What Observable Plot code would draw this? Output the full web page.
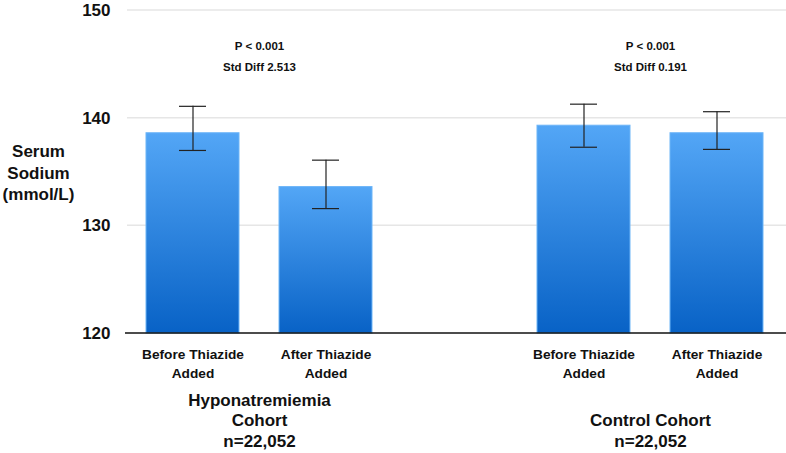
<!DOCTYPE html>
<html>
<head>
<meta charset="utf-8">
<script src="https://cdn.jsdelivr.net/npm/d3@7"></script>
<script src="https://cdn.jsdelivr.net/npm/@observablehq/plot@0.6"></script>
<style>
  html, body { margin: 0; padding: 0; background: #fff; }
  #chart svg { display: block; }
</style>
</head>
<body>
<div id="chart"></div>
<script>
// ---- data ----
const cohortKeys = ["Hyponatremiemia", "Control"];
const cohortLabels = ["Hyponatremiemia\nCohort\nn=22,052", "Control Cohort\nn=22,052"];
const phases = ["Before", "After"];
const phaseLabels = ["Before Thiazide\nAdded", "After Thiazide\nAdded"];
// values in order: Hypo-Before, Hypo-After, Control-Before, Control-After
const means   = [138.6, 133.6, 139.3, 138.6];
const errLow  = [137.0, 131.6, 137.3, 137.1];
const errHigh = [141.1, 136.1, 141.3, 140.6];
const pValues = ["P < 0.001", "P < 0.001"];
const stdDiffs = ["Std Diff 2.513", "Std Diff 0.191"];
const yTicks = [120, 130, 140, 150];
const yLabel = "Serum\nSodium\n(mmol/L)";

// ---- build tables ----
const rows = [];
cohortKeys.forEach((c, ci) => phases.forEach((p, pi) => {
  const i = ci * phases.length + pi;
  rows.push({cohort: c, phase: p, mean: means[i], lo: errLow[i], hi: errHigh[i]});
}));
const annots = cohortKeys.map((c, i) => ({cohort: c, text: pValues[i] + "\n" + stdDiffs[i]}));
const cohortRows = cohortKeys.map((c, i) => ({cohort: c, text: cohortLabels[i]}));
const phaseLabel = p => phaseLabels[phases.indexOf(p)];

const W = 786, H = 453, ML = 127, MR = 4, MT = 10, MB = 120;

const chart = Plot.plot({
  width: W,
  height: H,
  marginLeft: ML,
  marginRight: MR,
  marginTop: MT,
  marginBottom: MB,
  style: {fontFamily: "'Liberation Sans', Arial, Helvetica, sans-serif", fontWeight: "bold", color: "#111", background: "#fff"},
  fx: {domain: cohortKeys, paddingInner: 0.3258, paddingOuter: 0, axis: null, label: null},
  x: {domain: phases, paddingInner: 0.3, paddingOuter: 0.139, label: null},
  y: {domain: [yTicks[0], yTicks[yTicks.length - 1]], label: null},
  marks: [
    Plot.barY(rows, {fx: "cohort", x: "phase", y1: yTicks[0], y2: "mean", fill: "url(#barGrad)", stroke: "#6db5f8", strokeWidth: 1}),
    Plot.ruleX(rows, {fx: "cohort", x: "phase", y1: "lo", y2: "hi", stroke: "#222", strokeWidth: 1.2}),
    Plot.tickY(rows, {fx: "cohort", x: "phase", y: "lo", stroke: "#222", strokeWidth: 1.2, inset: 33}),
    Plot.tickY(rows, {fx: "cohort", x: "phase", y: "hi", stroke: "#222", strokeWidth: 1.2, inset: 33}),
    Plot.axisY({ticks: yTicks, tickSize: 0, tickPadding: 17, fontSize: 17, label: null}),
    Plot.axisX({tickSize: 0, tickPadding: 12, fontSize: 13.7, lineHeight: 1.39, tickFormat: phaseLabel, label: null}),
    Plot.text(annots, {fx: "cohort", text: "text", frameAnchor: "top", dy: 25, fontSize: 11.5, lineHeight: 1.83, fill: "#111"}),
    Plot.text(cohortRows, {fx: "cohort", text: "text", frameAnchor: "bottom", lineAnchor: "bottom", dy: 113, fontSize: 17, lineHeight: 1.2, fill: "#111"}),
    Plot.text([yLabel], {text: d => d, frameAnchor: "left", dx: -89, textAnchor: "middle", fontSize: 17, lineHeight: 1.27, fill: "#111", facet: "super"})
  ]
});

const svg = d3.select(chart);
const yScale = chart.scale("y");

// gradient for bars
const grad = svg.insert("defs", ":first-child").append("linearGradient")
  .attr("id", "barGrad").attr("x1", 0).attr("y1", 0).attr("x2", 0).attr("y2", 1);
grad.append("stop").attr("offset", "0%").attr("stop-color", "#53a6f6");
grad.append("stop").attr("offset", "100%").attr("stop-color", "#0862c6");

// continuous grid lines across both cohorts (behind bars), drawn with Plot's y scale
const firstG = chart.querySelector("g");
const grid = d3.select(chart.insertBefore(document.createElementNS("http://www.w3.org/2000/svg", "g"), firstG));
grid.selectAll("line").data(yTicks.slice(1)).join("line")
  .attr("x1", ML).attr("x2", W)
  .attr("y1", d => yScale.apply(d)).attr("y2", d => yScale.apply(d))
  .attr("stroke", "#e6e6e6").attr("stroke-width", 1.5);
// baseline
svg.append("line")
  .attr("x1", ML - 2).attr("x2", W)
  .attr("y1", yScale.apply(yTicks[0])).attr("y2", yScale.apply(yTicks[0]))
  .attr("stroke", "#111").attr("stroke-width", 1.6);

document.getElementById("chart").appendChild(chart);
</script>
</body>
</html>
